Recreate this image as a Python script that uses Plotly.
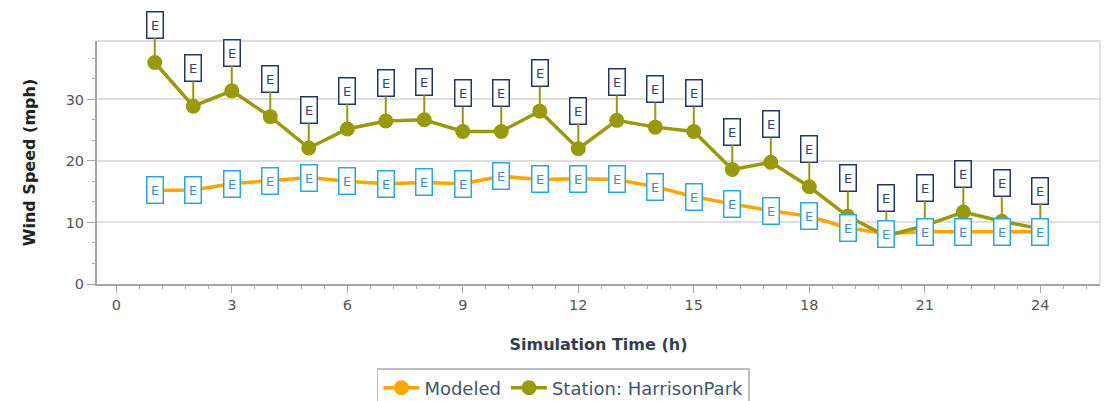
import plotly.graph_objects as go

hours = list(range(1, 25))
modeled = [15.2, 15.3, 16.3, 16.8, 17.3, 16.7, 16.3, 16.5, 16.3, 17.5, 17.0, 17.1,
           17.0, 15.8, 14.2, 13.0, 11.9, 11.0, 9.1, 8.2, 8.5, 8.5, 8.5, 8.5]
station = [36.0, 28.9, 31.4, 27.2, 22.1, 25.2, 26.5, 26.7, 24.8, 24.8, 28.1, 22.0,
           26.6, 25.5, 24.8, 18.6, 19.8, 15.8, 11.0, 7.8, 9.5, 11.7, 10.2, 9.0]
x_ticks = list(range(0, 25, 3))
y_ticks = [0, 10, 20, 30]
series_names = ["Modeled", "Station: HarrisonPark"]

ORANGE = "#FFA500"
OLIVE = "#989A0C"
FONT = "DejaVu Sans"
TXT = "#44546A"

fig = go.Figure()
fig.add_trace(go.Scatter(x=hours, y=modeled, name=series_names[0], mode="lines+markers",
                         line=dict(color=ORANGE, width=3.5), marker=dict(color=ORANGE, size=15)))
fig.add_trace(go.Scatter(x=hours, y=station, name=series_names[1], mode="lines+markers",
                         line=dict(color=OLIVE, width=3.5), marker=dict(color=OLIVE, size=15)))

annotations = []
for h, v in zip(hours, station):
    annotations.append(dict(x=h, y=v, xref="x", yref="y", text="E", showarrow=True, arrowhead=0,
                            arrowwidth=2, arrowcolor=OLIVE, ax=0, ay=-38, standoff=0,
                            bgcolor="white", bordercolor="#1F3864", borderwidth=1.5, borderpad=0,
                            width=15, height=25, font=dict(family=FONT, size=13, color="#2F4470")))
for h, v in zip(hours, modeled):
    annotations.append(dict(x=h, y=v, xref="x", yref="y", text="E", showarrow=False,
                            bgcolor="white", bordercolor="#2BA6DE", borderwidth=1.5, borderpad=0,
                            width=15, height=25, font=dict(family=FONT, size=13, color="#3C8FC4")))

fig.update_layout(
    width=1104, height=401, paper_bgcolor="white", plot_bgcolor="white",
    margin=dict(l=97, r=4, t=41, b=117, autoexpand=False),
    font=dict(family=FONT, color=TXT, size=13),
    annotations=annotations,
    legend=dict(orientation="h", x=0.465, xanchor="center", y=-0.346, yanchor="top",
                bordercolor="#BFBFBF", borderwidth=1.5, font=dict(family=FONT, size=18, color=TXT),
                itemwidth=36),
    xaxis=dict(range=[-0.5, 25.55], tickmode="array", tickvals=x_ticks, showgrid=False, zeroline=False,
               ticks="outside", ticklen=7, tickcolor="#A6A6A6", showline=True, linecolor="#A6A6A6", linewidth=2,
               minor=dict(dtick=0.6, tick0=0, ticks="outside", ticklen=3, tickcolor="#A6A6A6", showgrid=False),
               tickfont=dict(size=14.5, color="#555555"),
               title=dict(text="<b>Simulation Time (h)</b>", font=dict(size=16, color="#333F50"), standoff=26)),
    yaxis=dict(range=[0, 39.5], tickmode="array", tickvals=y_ticks, showgrid=True, gridcolor="#DEDEDE", gridwidth=1.5,
               zeroline=False, ticks="outside", ticklen=8, tickcolor="#A6A6A6", showline=True, linecolor="#A6A6A6", linewidth=2,
               minor=dict(dtick=3.3333, tick0=0, ticks="outside", ticklen=3, tickcolor="#A6A6A6", showgrid=False),
               tickfont=dict(size=14.5, color="#555555"),
               title=dict(text="<b>Wind Speed (mph)</b>", font=dict(size=16, color="#222222"), standoff=26)),
    shapes=[dict(type="line", xref="paper", yref="paper", x0=0, x1=1, y0=1, y1=1, line=dict(color="#D0D0D0", width=1.5)),
            dict(type="line", xref="paper", yref="paper", x0=1, x1=1, y0=0, y1=1, line=dict(color="#D8D8D8", width=1.5))],
)
fig.write_html("out.html", config=dict(displayModeBar=False), post_script="document.body.style.margin='0';")
